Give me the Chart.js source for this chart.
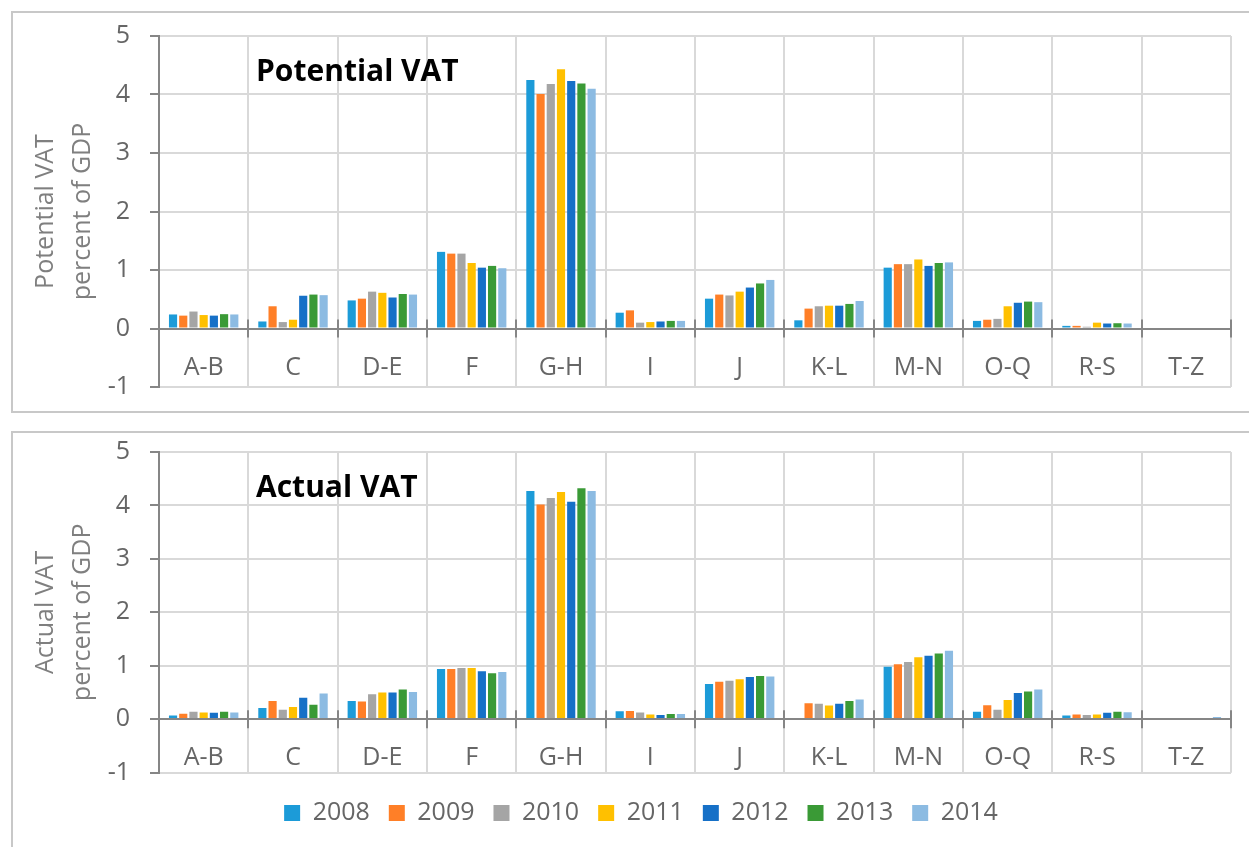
<!DOCTYPE html>
<html lang="en">
<head>
<meta charset="UTF-8" />
<title>Potential and actual VAT by sector</title>
<script src="https://cdn.jsdelivr.net/npm/chart.js"></script>
<style>
  html, body { margin: 0; padding: 0; background: #fff; }
  body { width: 1249px; height: 847px; overflow: hidden; position: relative; }
  .frame { position: absolute; border: 2px solid #c8c8c8; box-sizing: border-box; }
  #frameTop { left: 11px; top: 11px; width: 1260px; height: 402px; }
  #frameBottom { left: 11px; top: 431px; width: 1260px; height: 440px; }
  .box { position: absolute; left: 0; width: 1249px; }
  #boxTop { top: 0; height: 420px; }
  #boxBottom { top: 420px; height: 427px; }
</style>
</head>
<body>
  <div class="frame" id="frameTop"></div>
  <div class="frame" id="frameBottom"></div>
  <div class="box" id="boxTop"><canvas id="potentialChart"></canvas></div>
  <div class="box" id="boxBottom"><canvas id="actualChart"></canvas></div>

<script>
// sectors (NACE groups)
const categories = ['A-B', 'C', 'D-E', 'F', 'G-H', 'I', 'J', 'K-L', 'M-N', 'O-Q', 'R-S', 'T-Z'];
const years = ['2008', '2009', '2010', '2011', '2012', '2013', '2014'];
const yearColors = ['#1c9bd8', '#ff7f27', '#a5a5a5', '#ffc000', '#1670c7', '#3a9a36', '#8cbbe2'];
const yTicks = { min: -1, max: 5, step: 1 };

// Potential VAT, percent of GDP (one array per year, same order as categories)
const potential2008 = [0.24, 0.12, 0.48, 1.31, 4.25, 0.27, 0.51, 0.14, 1.04, 0.13, 0.045, 0];
const potential2009 = [0.22, 0.38, 0.51, 1.28, 4.01, 0.31, 0.58, 0.34, 1.10, 0.15, 0.045, 0];
const potential2010 = [0.29, 0.11, 0.63, 1.28, 4.18, 0.10, 0.565, 0.38, 1.10, 0.165, 0.03, 0];
const potential2011 = [0.23, 0.15, 0.61, 1.12, 4.43, 0.11, 0.63, 0.39, 1.18, 0.38, 0.10, 0];
const potential2012 = [0.22, 0.56, 0.53, 1.04, 4.23, 0.12, 0.70, 0.39, 1.07, 0.44, 0.085, 0];
const potential2013 = [0.245, 0.58, 0.59, 1.07, 4.19, 0.13, 0.77, 0.42, 1.12, 0.46, 0.09, 0];
const potential2014 = [0.24, 0.57, 0.58, 1.03, 4.10, 0.13, 0.83, 0.47, 1.13, 0.45, 0.085, 0];

// Actual VAT, percent of GDP
const actual2008 = [0.07, 0.21, 0.34, 0.94, 4.27, 0.15, 0.66, 0, 0.98, 0.14, 0.07, 0];
const actual2009 = [0.105, 0.34, 0.33, 0.94, 4.02, 0.155, 0.70, 0.30, 1.03, 0.26, 0.09, 0];
const actual2010 = [0.14, 0.18, 0.47, 0.96, 4.14, 0.125, 0.72, 0.29, 1.07, 0.18, 0.08, 0];
const actual2011 = [0.125, 0.23, 0.50, 0.96, 4.25, 0.087, 0.75, 0.255, 1.16, 0.36, 0.09, 0];
const actual2012 = [0.12, 0.40, 0.50, 0.90, 4.07, 0.08, 0.79, 0.29, 1.19, 0.49, 0.12, 0];
const actual2013 = [0.14, 0.27, 0.555, 0.86, 4.32, 0.10, 0.81, 0.34, 1.23, 0.52, 0.14, 0.02];
const actual2014 = [0.125, 0.48, 0.51, 0.885, 4.27, 0.10, 0.80, 0.37, 1.28, 0.555, 0.13, 0.04];

const potentialSeries = [potential2008, potential2009, potential2010, potential2011, potential2012, potential2013, potential2014];
const actualSeries = [actual2008, actual2009, actual2010, actual2011, actual2012, actual2013, actual2014];

const fontFamily = '"Open Sans", "Noto Sans", sans-serif';
const axisColor = '#868686';
const gridColor = '#d9d9d9';
const textColor = '#666666';

// Excel style "cross" tick marks on the category axis at y = 0
const crossTicks = {
  id: 'crossTicks',
  afterDatasetsDraw(chart) {
    const xs = chart.scales.x, ys = chart.scales.y;
    const y0 = ys.getPixelForValue(0);
    const ctx = chart.ctx;
    ctx.save();
    ctx.strokeStyle = axisColor;
    ctx.lineWidth = 2;
    ctx.beginPath();
    for (let i = 0; i <= categories.length; i++) {
      const px = Math.round(xs.getPixelForValue(i - 0.5));
      ctx.moveTo(px, y0 - 9);
      ctx.lineTo(px, y0 + 9);
    }
    ctx.stroke();
    ctx.restore();
  }
};

// bold label inside the plot area
const panelTitle = {
  id: 'panelTitle',
  afterDraw(chart, args, opts) {
    const { ctx, chartArea } = chart;
    ctx.save();
    ctx.font = 'bold 30px ' + fontFamily;
    ctx.fillStyle = '#000';
    ctx.textBaseline = 'alphabetic';
    ctx.fillText(opts.text, chartArea.left + 97, chartArea.top + 44.5);
    ctx.restore();
  }
};

function makeChart(canvasId, title, yTitle, series, showLegend, padding) {
  const ctx = document.getElementById(canvasId).getContext('2d');
  return new Chart(ctx, {
    type: 'bar',
    data: {
      labels: categories,
      datasets: years.map((yr, i) => ({
        label: yr,
        data: series[i],
        backgroundColor: yearColors[i],
        borderWidth: 0,
        barPercentage: 0.8,
        categoryPercentage: 0.8
      }))
    },
    plugins: [crossTicks, panelTitle],
    options: {
      responsive: true,
      maintainAspectRatio: false,
      animation: false,
      layout: { padding: padding },
      plugins: {
        tooltip: { enabled: false },
        panelTitle: { text: title },
        legend: {
          display: showLegend,
          position: 'bottom',
          title: { display: true, text: '', font: { size: 1 }, padding: { top: 0, bottom: 7.6 } },
          labels: {
            boxWidth: 16,
            boxHeight: 16,
            padding: 19,
            color: textColor,
            font: { family: fontFamily, size: 25 }
          }
        }
      },
      scales: {
        x: {
          position: { y: 0 },
          offset: true,
          grid: { color: gridColor, lineWidth: 2, offset: true, drawTicks: false },
          border: { color: axisColor, width: 2, z: 1 },
          ticks: { color: textColor, padding: 24, font: { family: fontFamily, size: 25 }, maxRotation: 0 }
        },
        y: {
          min: yTicks.min,
          max: yTicks.max,
          afterFit(scale) {
            scale.width = 108;
            // let the layout padding alone decide where the plot starts and ends
            scale.paddingTop = 0;
            scale.paddingBottom = 0;
          },
          ticks: { stepSize: yTicks.step, color: textColor, padding: 20, font: { family: fontFamily, size: 25 } },
          grid: { color: gridColor, lineWidth: 2, tickColor: axisColor, tickLength: 9 },
          border: { color: axisColor, width: 2 },
          title: {
            display: true,
            text: yTitle,
            color: '#7f7f7f',
            padding: { top: -23, bottom: 0 },
            font: { family: fontFamily, size: 25, lineHeight: 1.45 }
          }
        }
      }
    }
  });
}

makeChart('potentialChart', 'Potential VAT', ['Potential VAT', 'percent of GDP'], potentialSeries, false,
  { left: 51, right: 18, top: 36, bottom: 33 });
makeChart('actualChart', 'Actual VAT', ['Actual VAT', 'percent of GDP'], actualSeries, true,
  { left: 51, right: 18, top: 32, bottom: 11.5 });
</script>
</body>
</html>
